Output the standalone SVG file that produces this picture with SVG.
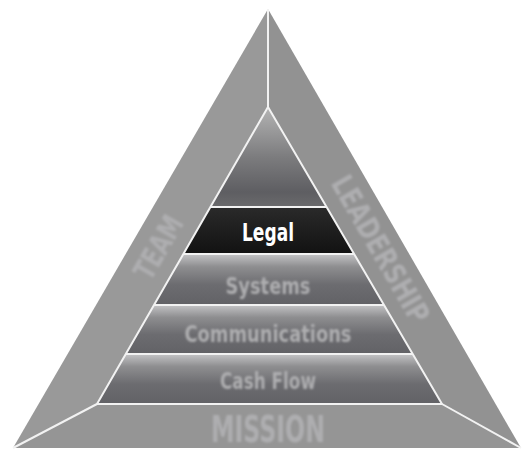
<svg xmlns="http://www.w3.org/2000/svg" width="523" height="451" viewBox="0 0 523 451">
<defs>
<linearGradient id="band" x1="0" y1="0" x2="0" y2="1">
<stop offset="0" stop-color="#c4c4c6"/>
<stop offset="0.25" stop-color="#8e8e90"/>
<stop offset="0.6" stop-color="#6c6c70"/>
<stop offset="1" stop-color="#626266"/>
</linearGradient>
<linearGradient id="topg" x1="0" y1="0" x2="0" y2="1">
<stop offset="0" stop-color="#b4b4b4"/>
<stop offset="0.5" stop-color="#7c7c7e"/>
<stop offset="0.85" stop-color="#5e5e62"/>
<stop offset="1" stop-color="#6a6a6c"/>
</linearGradient>
<linearGradient id="legalg" x1="0" y1="0" x2="0" y2="1">
<stop offset="0" stop-color="#2a2a2a"/>
<stop offset="1" stop-color="#121212"/>
</linearGradient>
<filter id="soft" x="-10%" y="-30%" width="120%" height="160%">
<feGaussianBlur stdDeviation="1.1"/>
</filter>
</defs>
<style>
.edge{stroke:#f2f2f2;stroke-width:2;stroke-linejoin:round}
.lbl{font-family:"DejaVu Sans Condensed","Liberation Sans Narrow","Liberation Sans",sans-serif;font-weight:bold;text-anchor:middle}
.faint{fill:#aeaeb0;filter:url(#soft)}
</style>
<rect width="523" height="451" fill="#ffffff"/>

<g id="team">
<polygon points="268,9 268,107 97,404 13,448" fill="#999999"/>
<text class="lbl faint" x="158" y="258" font-size="30" transform="rotate(-60 158 247)" textLength="68" lengthAdjust="spacingAndGlyphs">TEAM</text>
</g>
<g id="leadership">
<polygon points="268,9 521,448 442,404 268,107" fill="#929292"/>
<text class="lbl faint" x="381" y="260" font-size="30" transform="rotate(60 381 249)" textLength="165" lengthAdjust="spacingAndGlyphs">LEADERSHIP</text>
</g>
<g id="mission">
<polygon points="13,448 97,404 442,404 521,448" fill="#959595"/>
<text class="lbl faint" x="268" y="442" font-size="38" textLength="114" lengthAdjust="spacingAndGlyphs">MISSION</text>
</g>

<g id="apex">
<polygon points="268,107 326.6,207 210.4,207" fill="url(#topg)"/>
</g>
<g id="legal">
<polygon points="210.4,207 326.6,207 354.1,254 183.4,254" fill="url(#legalg)"/>
<text class="lbl" x="268" y="241" font-size="25" fill="#ffffff" textLength="52" lengthAdjust="spacingAndGlyphs">Legal</text>
</g>
<g id="systems">
<polygon points="183.4,254 354.1,254 384,305 154,305" fill="url(#band)"/>
<text class="lbl faint" x="268" y="294" font-size="23" textLength="85" lengthAdjust="spacingAndGlyphs">Systems</text>
</g>
<g id="communications">
<polygon points="154,305 384,305 412.7,354 125.8,354" fill="url(#band)"/>
<text class="lbl faint" x="268" y="342" font-size="23" textLength="167" lengthAdjust="spacingAndGlyphs">Communications</text>
</g>
<g id="cashflow">
<polygon points="125.8,354 412.7,354 442,404 97,404" fill="url(#band)"/>
<text class="lbl faint" x="268" y="389" font-size="23" textLength="96" lengthAdjust="spacingAndGlyphs">Cash Flow</text>
</g>

<g id="connectors" fill="none" class="edge">
<line x1="268" y1="9" x2="268" y2="107"/>
<line x1="97" y1="404" x2="13" y2="448"/>
<line x1="442" y1="404" x2="521" y2="448"/>
<polygon points="268,107 442,404 97,404"/>
<line x1="210.4" y1="207" x2="326.6" y2="207"/>
<line x1="183.4" y1="254" x2="354.1" y2="254"/>
<line x1="154" y1="305" x2="384" y2="305"/>
<line x1="125.8" y1="354" x2="412.7" y2="354"/>
</g>
</svg>
